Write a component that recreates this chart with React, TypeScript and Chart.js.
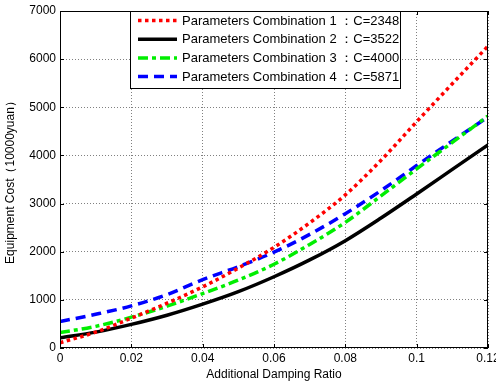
import React, { useEffect, useRef } from "react";
import { Chart, registerables } from "chart.js";

Chart.register(...registerables);

const xValues = [0, 0.01, 0.02, 0.03, 0.04, 0.05, 0.06, 0.07, 0.08, 0.09, 0.1, 0.11, 0.12];
const combo1 = [110, 330, 620, 930, 1270, 1660, 2090, 2600, 3180, 3900, 4700, 5490, 6270];
const combo2 = [210, 330, 490, 680, 910, 1170, 1480, 1830, 2230, 2700, 3200, 3710, 4220];
const combo3 = [320, 450, 640, 870, 1130, 1410, 1740, 2150, 2610, 3160, 3720, 4270, 4820];
const combo4 = [550, 700, 875, 1110, 1420, 1690, 1990, 2360, 2790, 3270, 3790, 4300, 4800];
const seriesLabels = [
  "Parameters Combination 1 \uFF1AC=2348",
  "Parameters Combination 2 \uFF1AC=3522",
  "Parameters Combination 3 \uFF1AC=4000",
  "Parameters Combination 4 \uFF1AC=5871",
];
const xTitle = "Additional Damping Ratio";
const yTitle = "Equipment Cost\uFF0810000yuan\uFF09";

const FONT = "Arial, 'Liberation Sans', sans-serif";

const frameLegendPlugin = {
  id: "frameLegend",
  afterDatasetsDraw(chart: any) {
    const { ctx, chartArea } = chart;
    const { left, right, top, bottom } = chartArea;
    ctx.save();
    ctx.strokeStyle = "#000";
    ctx.lineWidth = 1;
    ctx.setLineDash([]);
    ctx.strokeRect(left + 0.5, top + 0.5, right - left - 1, bottom - top - 1);
    const xs = chart.scales.x;
    const ys = chart.scales.y;
    ctx.beginPath();
    xs.ticks.forEach((t: any) => {
      const px = Math.round(xs.getPixelForValue(t.value)) + 0.5;
      ctx.moveTo(px, bottom);
      ctx.lineTo(px, bottom - 4);
      ctx.moveTo(px, top);
      ctx.lineTo(px, top + 4);
    });
    ys.ticks.forEach((t: any) => {
      const py = Math.round(ys.getPixelForValue(t.value)) + 0.5;
      ctx.moveTo(left, py);
      ctx.lineTo(left + 4, py);
      ctx.moveTo(right, py);
      ctx.lineTo(right - 4, py);
    });
    ctx.stroke();

    const lx = left + 70;
    const ly = top;
    const lw = 270;
    const lh = 77;
    ctx.fillStyle = "#fff";
    ctx.fillRect(lx, ly, lw, lh);
    ctx.strokeStyle = "#000";
    ctx.lineWidth = 1;
    ctx.strokeRect(lx + 0.5, ly + 0.5, lw, lh);
    ctx.font = `13px ${FONT}`;
    ctx.textBaseline = "middle";
    chart.data.datasets.forEach((ds: any, i: number) => {
      const cy = ly + 9.5 + i * 18.7;
      ctx.beginPath();
      ctx.strokeStyle = ds.borderColor;
      ctx.lineWidth = ds.borderWidth;
      ctx.setLineDash(ds.borderDash || []);
      ctx.moveTo(lx + 8, cy);
      ctx.lineTo(lx + 47, cy);
      ctx.stroke();
      ctx.setLineDash([]);
      ctx.fillStyle = "#000";
      ctx.fillText(ds.label, lx + 52, cy + 0.5);
    });
    ctx.restore();
  },
};

export default function App() {
  const ref = useRef<HTMLCanvasElement>(null);
  useEffect(() => {
    document.body.style.margin = "0";
    const canvas = ref.current!;
    const mk = (vals: number[]) => vals.map((v, i) => ({ x: xValues[i], y: v }));
    const common = { pointRadius: 0, cubicInterpolationMode: "monotone", fill: false, borderWidth: 3.5 };
    const chart = new Chart(canvas, {
      type: "line",
      data: {
        datasets: [
          { ...common, label: seriesLabels[0], data: mk(combo1), borderColor: "#ff0000", borderDash: [3.5, 3.5] },
          { ...common, label: seriesLabels[1], data: mk(combo2), borderColor: "#000000", borderDash: [] },
          { ...common, label: seriesLabels[2], data: mk(combo3), borderColor: "#00ee00", borderDash: [10, 4, 4, 4] },
          { ...common, label: seriesLabels[3], data: mk(combo4), borderColor: "#0000ff", borderDash: [10, 6] },
        ],
      },
      options: {
        animation: false,
        responsive: false,
        maintainAspectRatio: false,
        layout: { padding: { top: 11, right: 8, left: 0, bottom: 0 } },
        plugins: { legend: { display: false }, tooltip: { enabled: false } },
        scales: {
          x: {
            type: "linear",
            min: 0,
            max: 0.12,
            ticks: {
              stepSize: 0.02,
              color: "#000",
              font: { family: FONT, size: 12 },
              padding: 3,
              maxRotation: 0,
              callback: (v: any) => String(Number(Number(v).toFixed(2))),
            },
            grid: { color: "#808080", drawTicks: false, lineWidth: 1 },
            border: { display: false, dash: [1, 2] },
            title: { display: true, text: xTitle, color: "#000", font: { family: FONT, size: 12 }, padding: { top: 0, bottom: 0 } },
            afterFit: (s: any) => {
              s.height = 34;
              s.paddingLeft = 0;
              s.paddingRight = 0;
            },
          },
          y: {
            type: "linear",
            min: 0,
            max: 7000,
            ticks: {
              stepSize: 1000,
              color: "#000",
              font: { family: FONT, size: 12 },
              padding: 4,
              callback: (v: any) => String(v),
            },
            grid: { color: "#808080", drawTicks: false, lineWidth: 1 },
            border: { display: false, dash: [1, 2] },
            title: { display: true, text: yTitle, color: "#000", font: { family: FONT, size: 12 }, padding: { top: 3, bottom: 4 } },
            afterFit: (s: any) => {
              s.width = 60;
              s.paddingTop = 0;
              s.paddingBottom = 0;
            },
          },
        },
      },
      plugins: [frameLegendPlugin],
    } as any);
    return () => chart.destroy();
  }, []);
  return <canvas ref={ref} width={496} height={382} style={{ display: "block" }} />;
}
